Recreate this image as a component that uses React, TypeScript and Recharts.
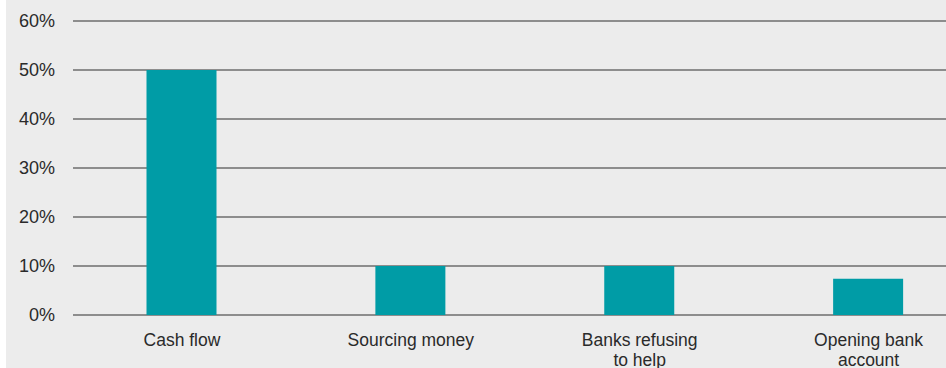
import React from "react";
import { BarChart, Bar, XAxis, YAxis, CartesianGrid } from "recharts";

const categories = ["Cash flow", "Sourcing money", "Banks refusing\nto help", "Opening bank\naccount"];
const shares = [50, 10, 10, 7.4];
const yTicks = [0, 10, 20, 30, 40, 50, 60];

const data = categories.map((name, i) => ({ name, value: shares[i] }));

const FONT = "'Liberation Sans', Arial, Helvetica, sans-serif";

function CategoryTick(props: any) {
  const { x, y, payload } = props;
  const lines = String(payload.value).split("\n");
  return (
    <text x={x} y={y} textAnchor="middle" fill="#2a2a2a" fontSize={17.5} fontFamily={FONT}>
      {lines.map((line, i) => (
        <tspan key={i} x={x} dy={i === 0 ? 12 : 20}>
          {line}
        </tspan>
      ))}
    </text>
  );
}

export default function App() {
  return (
    <div
      style={{
        position: "fixed",
        left: 0,
        top: 0,
        width: 946,
        height: 368,
        overflow: "hidden",
        background: "#ffffff",
      }}
    >
      <div
        style={{
          position: "absolute",
          left: 6,
          top: 0,
          width: 940,
          height: 368,
          background: "#ececec",
          overflow: "hidden",
        }}
      >
        <BarChart
          width={977}
          height={368}
          data={data}
          margin={{ top: 21, right: 0, bottom: 23, left: 0 }}
        >
          <CartesianGrid vertical={false} stroke="#6e6e6e" strokeWidth={1.6} />
          <XAxis
            dataKey="name"
            height={30}
            axisLine={false}
            tickLine={false}
            tickSize={0}
            tickMargin={19}
            interval={0}
            padding={{ left: -5.5, right: 0 }}
            tick={<CategoryTick />}
          />
          <YAxis
            width={67}
            domain={[0, 60]}
            ticks={yTicks}
            axisLine={false}
            tickLine={false}
            tickSize={0}
            tickMargin={18}
            tickFormatter={(v: number) => `${v}%`}
            tick={{ fill: "#2a2a2a", fontSize: 18, fontFamily: FONT }}
          />
          <Bar dataKey="value" fill="#009ca6" barSize={70} isAnimationActive={false} />
        </BarChart>
      </div>
    </div>
  );
}
